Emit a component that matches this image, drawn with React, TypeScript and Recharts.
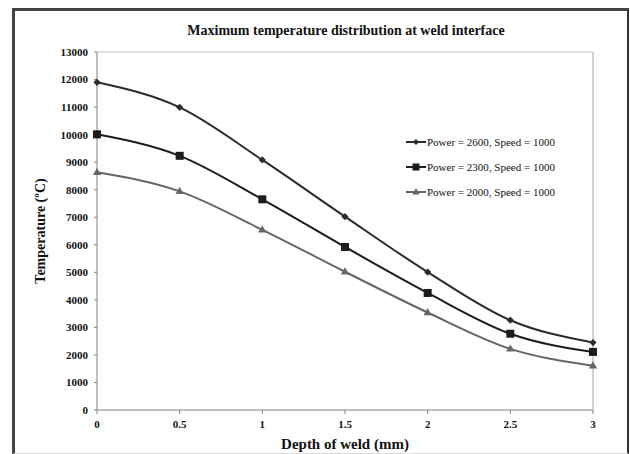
import React from 'react';
import { Line, LineChart, ReferenceLine, XAxis, YAxis } from 'recharts';

const depths = [0, 0.5, 1, 1.5, 2, 2.5, 3];
const power2600 = [11900, 10990, 9080, 7020, 5010, 3260, 2450];
const power2300 = [10010, 9230, 7650, 5920, 4250, 2770, 2110];
const power2000 = [8630, 7940, 6540, 5020, 3540, 2220, 1610];

const xTicks = [0, 0.5, 1, 1.5, 2, 2.5, 3];
const yTicks = [0, 1000, 2000, 3000, 4000, 5000, 6000, 7000, 8000, 9000, 10000, 11000, 12000, 13000];

const SERIES = [
  { key: 'p2600', name: 'Power = 2600, Speed = 1000', color: '#2b2b2b', shape: 'diamond', size: 3.6 },
  { key: 'p2300', name: 'Power = 2300, Speed = 1000', color: '#1c1c1c', shape: 'square', size: 4 },
  { key: 'p2000', name: 'Power = 2000, Speed = 1000', color: '#666666', shape: 'triangle', size: 4.2 },
] as const;

const rows = depths.map((d, i) => ({
  depth: d,
  p2600: power2600[i],
  p2300: power2300[i],
  p2000: power2000[i],
}));

const FONT = '"Liberation Serif", "Times New Roman", serif';
const tick = { fontFamily: FONT, fontSize: 11, fontWeight: 700, fill: '#111' };

// marker shapes, r is half-size in px
function Marker({ cx, cy, shape, r, color }: { cx: number; cy: number; shape: string; r: number; color: string }) {
  if (shape === 'square') {
    return <rect x={cx - r} y={cy - r} width={r * 2} height={r * 2} fill={color} />;
  }
  if (shape === 'triangle') {
    const h = r * 1.7;
    return (
      <path
        d={`M${cx},${cy - h * 0.62} L${cx + r},${cy + h * 0.38} L${cx - r},${cy + h * 0.38} Z`}
        fill={color}
      />
    );
  }
  return <path d={`M${cx},${cy - r} L${cx + r},${cy} L${cx},${cy + r} L${cx - r},${cy} Z`} fill={color} />;
}

function markerFor(shape: string, r: number, color: string) {
  return (props: any) => {
    const { cx, cy, index } = props;
    if (cx == null || cy == null) return <g key={index} />;
    return (
      <g key={index}>
        <Marker cx={cx} cy={cy} shape={shape} r={r} color={color} />
      </g>
    );
  };
}

function LegendBox() {
  return (
    <div style={{ position: 'absolute', left: 406, top: 129, fontFamily: FONT, fontSize: 11, color: '#111' }}>
      {SERIES.map((s) => (
        <div key={s.key} style={{ display: 'flex', alignItems: 'center', height: 25, whiteSpace: 'nowrap' }}>
          <svg width={20} height={10} style={{ marginRight: 1 }}>
            <line x1={0} y1={5} x2={20} y2={5} stroke={s.color} strokeWidth={2} />
            <Marker cx={10} cy={5} shape={s.shape} r={s.size - 0.5} color={s.color} />
          </svg>
          <span>{s.name}</span>
        </div>
      ))}
    </div>
  );
}

export default function App() {
  return (
    <div style={{ position: 'absolute', left: 0, top: 0, width: 630, height: 454, background: '#fff', overflow: 'hidden' }}>
      <div
        style={{
          position: 'absolute',
          left: 12,
          top: 8,
          width: 617,
          height: 446,
          borderTop: '3px solid #444',
          borderLeft: '3px solid #444',
          borderRight: '2px solid #333',
          borderBottom: '1px solid #ddd',
          boxSizing: 'border-box',
        }}
      />
      <div
        style={{
          position: 'absolute',
          left: 0,
          top: 23,
          width: 692,
          textAlign: 'center',
          fontFamily: FONT,
          fontSize: 14,
          fontWeight: 700,
          color: '#111',
        }}
      >
        Maximum temperature distribution at weld interface
      </div>
      <div style={{ position: 'absolute', left: 0, top: 0 }}>
        <LineChart width={630} height={454} data={rows} margin={{ top: 52, right: 37, bottom: 0, left: 0 }}>
          <XAxis
            dataKey="depth"
            type="number"
            domain={[0, 3]}
            ticks={xTicks}
            tick={tick}
            tickSize={4}
            tickMargin={6}
            stroke="#808080"
            height={44}
            label={{
              value: 'Depth of weld (mm)',
              position: 'insideBottom',
              offset: 5,
              style: { fontFamily: FONT, fontSize: 15, fontWeight: 700, fill: '#111' },
            }}
          />
          <YAxis
            type="number"
            domain={[0, 13000]}
            ticks={yTicks}
            interval={0}
            tick={tick}
            tickSize={3}
            tickMargin={6}
            stroke="#808080"
            width={97}
            label={{
              value: 'Temperature (ºC)',
              angle: -90,
              position: 'insideLeft',
              offset: 40,
              style: { fontFamily: FONT, fontSize: 14, fontWeight: 700, fill: '#111', textAnchor: 'middle' },
            }}
          />
          <ReferenceLine y={13000} stroke="#c4c4c4" strokeWidth={1} />
          <ReferenceLine x={3} stroke="#c4c4c4" strokeWidth={1.5} />
          {SERIES.map((s) => (
            <Line
              key={s.key}
              dataKey={s.key}
              name={s.name}
              type="monotone"
              stroke={s.color}
              strokeWidth={2}
              dot={markerFor(s.shape, s.size, s.color)}
              activeDot={false}
              isAnimationActive={false}
            />
          ))}
        </LineChart>
      </div>
      <LegendBox />
    </div>
  );
}
